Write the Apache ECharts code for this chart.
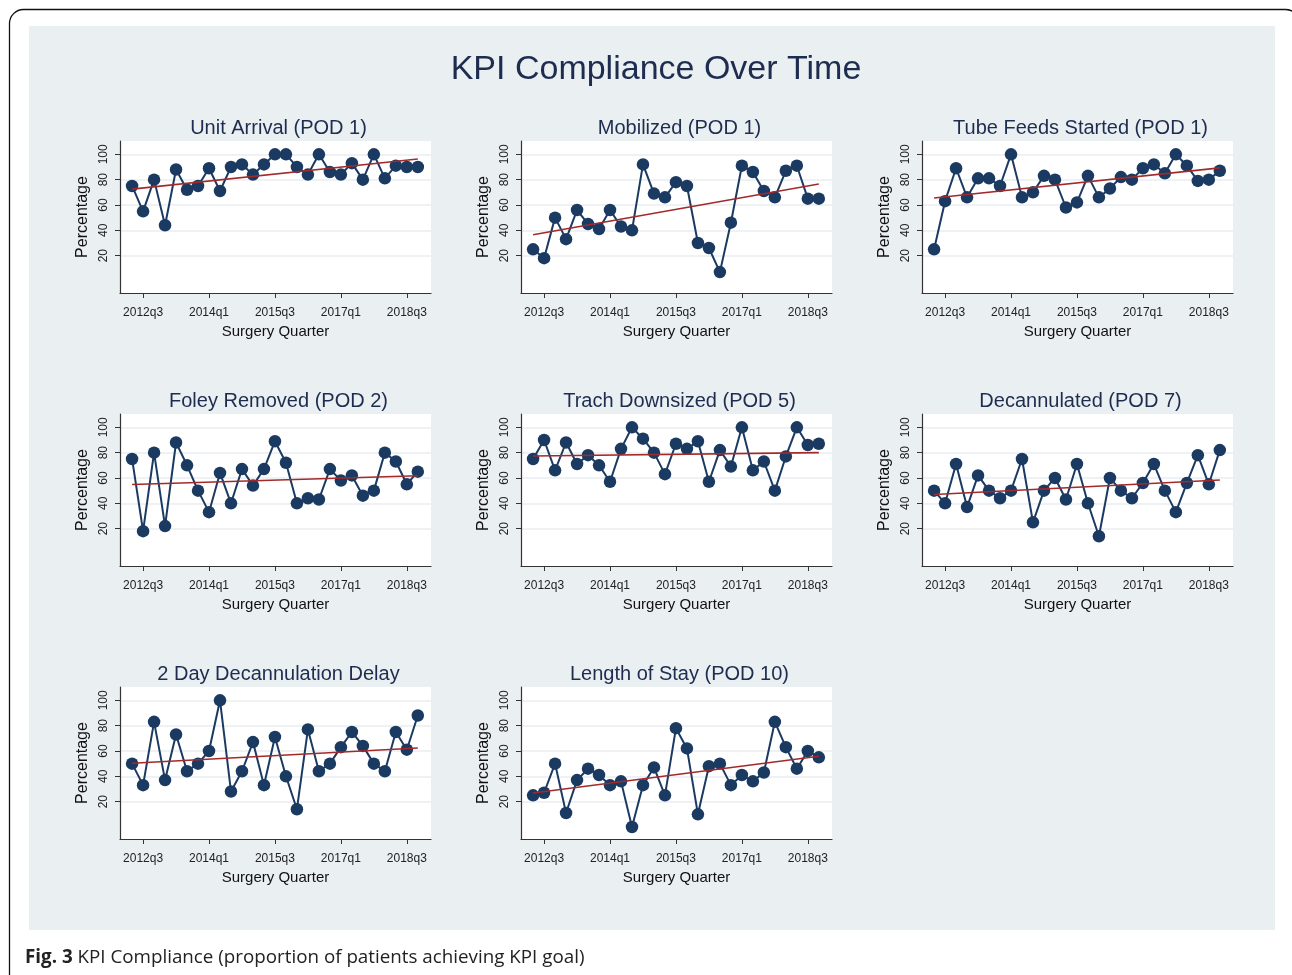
<!DOCTYPE html>
<html>
<head>
<meta charset="utf-8">
<script src="https://cdn.jsdelivr.net/npm/echarts@6/dist/echarts.min.js"></script>
<style>
html,body{margin:0;padding:0;background:#fff;}
#chart{width:1292px;height:975px;}
</style>
</head>
<body>
<div id="chart"></div>
<script>
// ---- Data ----
const quarters = ['2012q2','2012q3','2012q4','2013q1','2013q2','2013q3','2013q4','2014q1','2014q2','2014q3','2014q4',
  '2015q1','2015q2','2015q3','2015q4','2016q1','2016q2','2016q3','2016q4','2017q1','2017q2','2017q3','2017q4',
  '2018q1','2018q2','2018q3','2018q4'];
const xTickLabels = ['2012q3','2014q1','2015q3','2017q1','2018q3'];
const yTickValues = [20, 40, 60, 80, 100];

const panelTitles = ['Unit Arrival (POD 1)','Mobilized (POD 1)','Tube Feeds Started (POD 1)',
  'Foley Removed (POD 2)','Trach Downsized (POD 5)','Decannulated (POD 7)',
  '2 Day Decannulation Delay','Length of Stay (POD 10)'];

const unitArrival   = [75,55,80,44,88,72,75,89,71,90,92,84,92,100,100,90,84,100,86,84,93,80,100,81,91,90,90];
const mobilized     = [25,18,50,33,56,45,41,56,43,40,92,69,66,78,75,30,26,7,46,91,86,71,66,87,91,65,65];
const tubeFeeds     = [25,63,89,66,81,81,75,100,66,70,83,80,58,62,83,66,73,82,80,89,92,85,100,91,79,80,87];
const foleyRemoved  = [75,18,80,22,88,70,50,33,64,40,67,54,67,89,72,40,44,43,67,58,62,46,50,80,73,55,65];
const trachDown     = [75,90,66,88,71,78,70,57,83,100,91,80,63,87,83,89,57,82,69,100,66,73,50,77,100,86,87];
const decannulated  = [50,40,71,37,62,50,44,50,75,25,50,60,43,71,40,14,60,50,44,56,71,50,33,56,78,55,82];
const decanDelay    = [50,33,83,37,73,44,50,60,100,28,44,67,33,71,40,14,77,44,50,63,75,64,50,44,75,61,88];
const lengthOfStay  = [25,27,50,11,37,46,41,33,36,0,33,47,25,78,62,10,48,50,33,41,36,43,83,63,46,60,55];

// fitted trend line end points (first and last quarter)
const fitStart = [72.5, 36.5, 65.5, 54.8, 77.3, 46.9, 50.3, 26.8];
const fitEnd   = [96.3, 76.5, 89.3, 61.8, 80.0, 58.4, 62.4, 55.8];

const seriesValues = [unitArrival, mobilized, tubeFeeds, foleyRemoved, trachDown, decannulated, decanDelay, lengthOfStay];

// ---- Build ----
const colLeft = [120, 521, 922];
const rowTop = [141, 414, 687];
const plotW = 311, plotH = 152;
const xTickIdx = xTickLabels.map(l => quarters.indexOf(l));
const navy = '#1b3a62';
const titleColor = '#1d2c4f';
const FONT = 'Liberation Sans, Arial, sans-serif';

const grids = [], xAxes = [], yAxes = [], series = [], titles = [];

titles.push({
  text: 'KPI Compliance Over Time', left: 651, top: 65, textAlign: 'center', textVerticalAlign: 'middle',
  textStyle: {fontFamily: FONT, fontSize: 34, fontWeight: 'normal', color: titleColor}
});

seriesValues.forEach((vals, i) => {
  const r = Math.floor(i / 3), c = i % 3;
  grids.push({left: colLeft[c], top: rowTop[r], width: plotW, height: plotH, show: true,
    backgroundColor: '#ffffff', borderWidth: 0, containLabel: false});
  titles.push({
    text: panelTitles[i], left: colLeft[c] + plotW / 2 - 2, top: rowTop[r] - 18, textAlign: 'center', textVerticalAlign: 'middle',
    textStyle: {fontFamily: FONT, fontSize: 20, fontWeight: 'normal', color: titleColor}
  });
  xAxes.push({
    gridIndex: i, type: 'value', min: -1.1, max: 27.2,
    name: 'Surgery Quarter', nameLocation: 'middle', nameGap: 31,
    nameTextStyle: {fontFamily: FONT, fontSize: 15, color: '#111'},
    axisLine: {show: true, onZero: false, lineStyle: {color: '#333', width: 1.2}},
    axisTick: {show: true, length: 5, customValues: xTickIdx, lineStyle: {color: '#333'}},
    axisLabel: {customValues: xTickIdx, margin: 14, fontFamily: FONT, fontSize: 12, color: '#222',
      formatter: v => quarters[Math.round(v)]},
    splitLine: {show: false}
  });
  yAxes.push({
    gridIndex: i, type: 'value', min: -9.5, max: 110.5,
    name: 'Percentage', nameLocation: 'middle', nameGap: 29, nameRotate: 90,
    nameTextStyle: {fontFamily: FONT, fontSize: 16, color: '#111'},
    axisLine: {show: true, onZero: false, lineStyle: {color: '#333', width: 1.2}},
    axisTick: {show: true, length: 5, customValues: yTickValues, lineStyle: {color: '#333'}},
    axisLabel: {customValues: yTickValues, rotate: 90, margin: 10, fontFamily: FONT, fontSize: 12, color: '#222'},
    splitLine: {show: true, lineStyle: {color: '#e9eef2', width: 1.5}}
  });
  series.push({
    type: 'line', xAxisIndex: i, yAxisIndex: i,
    data: vals.map((v, k) => [k, v]),
    symbol: 'circle', symbolSize: 12.5, showSymbol: true,
    itemStyle: {color: navy}, lineStyle: {color: navy, width: 2},
    animation: false, z: 2
  });
  series.push({
    type: 'line', xAxisIndex: i, yAxisIndex: i,
    data: [[0, fitStart[i]], [quarters.length - 1, fitEnd[i]]],
    symbol: 'none', lineStyle: {color: '#a22a2a', width: 1.6},
    animation: false, z: 3
  });
});

const chart = echarts.init(document.getElementById('chart'), null, {renderer: 'canvas'});
chart.setOption({
  animation: false,
  backgroundColor: '#ffffff',
  graphic: [
    {type: 'rect', shape: {x: 9.5, y: 9.5, width: 1290, height: 1000, r: 14},
      style: {fill: '#ffffff', stroke: '#111', lineWidth: 1.3}, z: -10, silent: true},
    {type: 'rect', shape: {x: 29, y: 26, width: 1246, height: 904},
      style: {fill: '#eaeff2'}, z: -9, silent: true},
    {type: 'text', left: 25, top: 948, z: 10,
      style: {text: '{b|Fig. 3} KPI Compliance (proportion of patients achieving KPI goal)',
        font: '18.8px "Open Sans", sans-serif', fill: '#222',
        rich: {b: {fontFamily: 'Open Sans, sans-serif', fontWeight: 'bold', fontSize: 18.8, fill: '#222'}}}}
  ],
  title: titles,
  grid: grids,
  xAxis: xAxes,
  yAxis: yAxes,
  series: series
});
</script>
</body>
</html>
